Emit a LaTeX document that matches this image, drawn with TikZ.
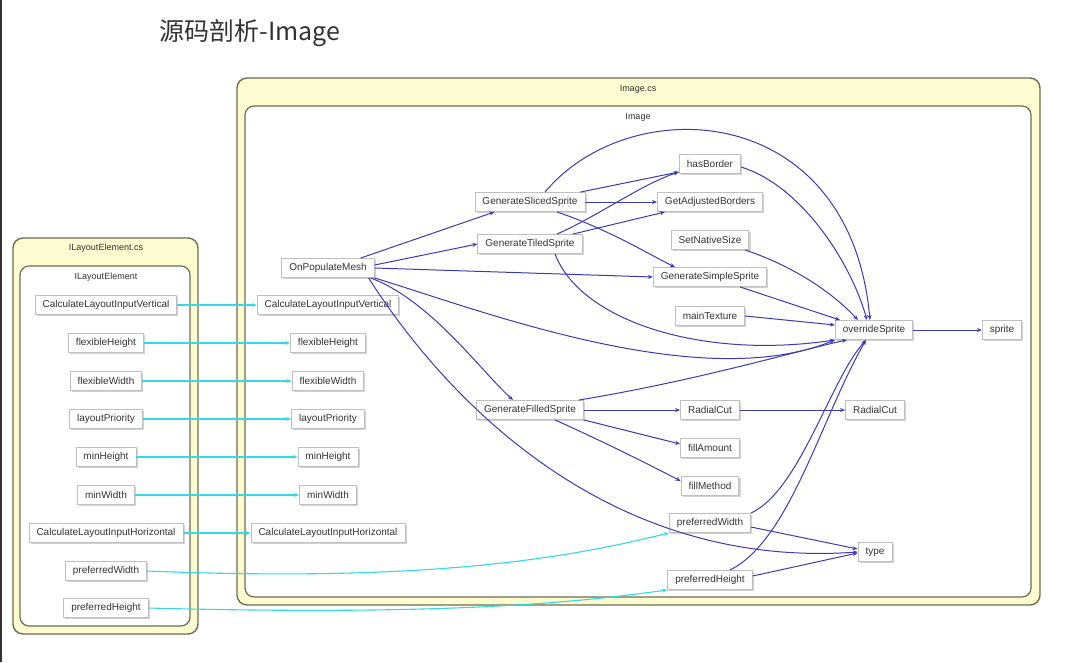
\documentclass[tikz,border=0pt]{standalone}
\usepackage{fontspec}
\setmainfont{Liberation Sans}
\newfontfamily\cjk{Noto Sans CJK SC}
\usetikzlibrary{arrows.meta,shadows}
\definecolor{edgeblue}{HTML}{3B3BB0}
\definecolor{edgecyan}{HTML}{35D8E6}
\definecolor{clusfill}{HTML}{FDFBCF}
\definecolor{clusdraw}{HTML}{6E6E52}
\definecolor{txt}{HTML}{333333}
\tikzset{
  nd/.style={draw=gray!50, line width=0.9pt, fill=white, text=txt,
    font=\fontsize{10}{12}\selectfont, inner xsep=7.5pt, inner ysep=0pt,
    minimum height=19pt,
    drop shadow={shadow xshift=1.6pt, shadow yshift=-1.6pt, opacity=1, fill=gray!35}},
  e/.style={draw=edgeblue, line width=1pt, -{Stealth[length=5pt,width=4pt]}},
  c/.style={draw=edgecyan, line width=1.1pt, -{Stealth[length=5pt,width=4pt]}},
  outerclus/.style={draw=clusdraw, line width=1.4pt, fill=clusfill, rounded corners=10pt},
  innerclus/.style={draw=clusdraw, line width=1.2pt, fill=white, rounded corners=9pt},
  clab/.style={font=\fontsize{9}{11}\selectfont, text=txt, inner sep=0pt}
}
\begin{document}
\begin{tikzpicture}[x=1pt,y=-1pt]
\fill[white] (0,0) rectangle (1082,662);
\useasboundingbox (0,0) rectangle (1082,662);
\draw[line width=2.5pt, gray!40!black] (1,0) -- (1,662);
% title
\node[font=\cjk\fontsize{25}{30}\selectfont, text=txt] (title) at (250,33) {源码剖析-Image};
% clusters
\draw[outerclus] (237,78) rectangle (1040,605);
\draw[innerclus] (245,106) rectangle (1031,597);
\node[clab] (imgcs) at (638,89) {Image.cs};
\node[clab] (imgcl) at (638,117) {Image};
\draw[outerclus] (13,238) rectangle (198,634);
\draw[innerclus] (20,266) rectangle (190,626);
\node[clab] (ilecs) at (106,248) {ILayoutElement.cs};
\node[clab] (ilecl) at (106,277) {ILayoutElement};
% left nodes
\node[nd] (lcv) at (106,305) {CalculateLayoutInputVertical};
\node[nd] (lfh) at (106,343) {flexibleHeight};
\node[nd] (lfw) at (106,381) {flexibleWidth};
\node[nd] (llp) at (106,419) {layoutPriority};
\node[nd] (lmh) at (106,457) {minHeight};
\node[nd] (lmw) at (106,495) {minWidth};
\node[nd] (lch) at (106,533) {CalculateLayoutInputHorizontal};
\node[nd] (lpw) at (106,571) {preferredWidth};
\node[nd] (lph) at (106,608) {preferredHeight};
% image nodes
\node[nd] (opm) at (328,268) {OnPopulateMesh};
\node[nd] (rcv) at (328,305) {CalculateLayoutInputVertical};
\node[nd] (rfh) at (328,343) {flexibleHeight};
\node[nd] (rfw) at (328,381) {flexibleWidth};
\node[nd] (rlp) at (328,419) {layoutPriority};
\node[nd] (rmh) at (328,457) {minHeight};
\node[nd] (rmw) at (328,495) {minWidth};
\node[nd] (rch) at (328,533) {CalculateLayoutInputHorizontal};
\node[nd] (gss) at (530,202) {GenerateSlicedSprite};
\node[nd] (gts) at (530,244) {GenerateTiledSprite};
\node[nd] (gfs) at (530,410) {GenerateFilledSprite};
\node[nd] (hb) at (710,164) {hasBorder};
\node[nd] (gab) at (710,202) {GetAdjustedBorders};
\node[nd] (sns) at (710,240) {SetNativeSize};
\node[nd] (gsim) at (710,277) {GenerateSimpleSprite};
\node[nd] (mt) at (710,316) {mainTexture};
\node[nd] (rca) at (710,410) {RadialCut};
\node[nd] (fa) at (710,448) {fillAmount};
\node[nd] (fm) at (710,486) {fillMethod};
\node[nd] (pw) at (710,523) {preferredWidth};
\node[nd] (ph) at (710,580) {preferredHeight};
\node[nd] (os) at (874,330) {overrideSprite};
\node[nd] (spr) at (1002,330) {sprite};
\node[nd] (rcb) at (875,410) {RadialCut};
\node[nd] (ty) at (875,552) {type};
% cyan edges
\draw[c] (lcv.east) -- (rcv.west);
\draw[c] (lfh.east) -- (rfh.west);
\draw[c] (lfw.east) -- (rfw.west);
\draw[c] (llp.east) -- (rlp.west);
\draw[c] (lmh.east) -- (rmh.west);
\draw[c] (lmw.east) -- (rmw.west);
\draw[c] (lch.east) -- (rch.west);
\draw[c] (lpw.east) .. controls (420,582) and (560,560) .. (pw.south west);
\draw[c] (lph.east) .. controls (450,616) and (580,602) .. (ph.south west);
% blue edges from OnPopulateMesh
\draw[e] ([xshift=-14pt]opm.north east) -- ([xshift=20pt]gss.south west);
\draw[e] ([yshift=3pt]opm.east) -- (gts.west);
\draw[e] (opm.east) -- (gsim.west);
\draw[e] (opm.south east) .. controls (480,310) and (700,395) .. (os.south west);
\draw[e] ([xshift=-4pt]opm.south east) .. controls (430,300) and (480,370) .. ([xshift=-17pt]gfs.north);
\draw[e] ([xshift=-6pt]opm.south east) .. controls (440,390) and (600,570) .. (ty.west);
% sliced / tiled
\draw[e] ([xshift=-5pt]gss.north east) -- ([yshift=2pt]hb.south west);
\draw[e] (gss.east) -- (gab.west);
\draw[e] ([xshift=27pt]gss.south) .. controls (610,230) and (650,255) .. ([xshift=-35pt]gsim.north);
\draw[e] ([xshift=15pt]gss.north) .. controls (630,90) and (850,100) .. ([xshift=-4pt]os.north);
\draw[e] ([xshift=27pt]gts.north) .. controls (600,215) and (640,185) .. ([yshift=2pt]hb.south west);
\draw[e] ([xshift=43pt]gts.north) -- ([xshift=-45pt]gab.south);
\draw[e] ([xshift=25pt]gts.south) .. controls (580,320) and (700,360) .. (os.south west);
% into overrideSprite
\draw[e] ([yshift=-3pt]hb.east) .. controls (800,185) and (850,260) .. ([xshift=-7pt]os.north);
\draw[e] ([xshift=35pt]sns.south) .. controls (790,265) and (830,290) .. ([xshift=-16pt]os.north);
\draw[e] ([xshift=30pt]gsim.south) -- ([xshift=-34pt]os.north);
\draw[e] (mt.east) -- ([yshift=5pt]os.west);
\draw[e] ([xshift=-5pt]gfs.north east) .. controls (700,380) and (800,350) .. ([xshift=-27pt]os.south);
\draw[e] (pw.north east) .. controls (800,490) and (830,380) .. ([xshift=-8pt]os.south);
\draw[e] ([xshift=20pt]ph.north) .. controls (790,540) and (820,420) .. ([xshift=-8pt]os.south);
\draw[e] (os.east) -- (spr.west);
% filled
\draw[e] (gfs.east) -- (rca.west);
\draw[e] (gfs.south east) -- ([yshift=4pt]fa.west);
\draw[e] ([xshift=25pt]gfs.south) .. controls (600,440) and (650,465) .. ([yshift=5pt]fm.west);
\draw[e] (rca.east) -- (rcb.west);
% type
\draw[e] ([yshift=-4pt]pw.east) -- ([yshift=3pt]ty.west);
\draw[e] ([yshift=4pt]ph.east) -- ([yshift=-1pt]ty.west);
\end{tikzpicture}
\end{document}
